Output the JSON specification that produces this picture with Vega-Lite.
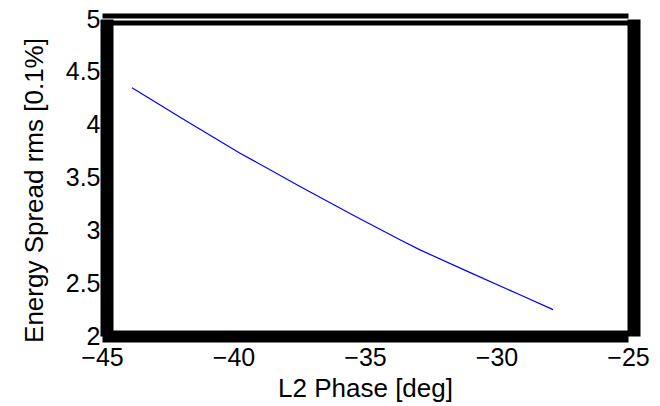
{
  "$schema": "https://vega.github.io/schema/vega-lite/v6.json",
  "width": 526,
  "height": 317,
  "autosize": "none",
  "padding": {"left": 102, "top": 19, "right": 32, "bottom": 70},
  "background": "white",
  "config": {
    "view": {"stroke": null},
    "font": "Liberation Sans",
    "axis": {"labelFont": "Liberation Sans", "titleFont": "Liberation Sans", "labelColor": "black", "titleColor": "black", "labelFontSize": 25, "titleFontSize": 26, "titleFontWeight": "normal", "grid": false}
  },
  "data": {"values": [
    {"phase": -43.86, "spread": 4.35},
    {"phase": -42.03, "spread": 4.07},
    {"phase": -39.75, "spread": 3.73},
    {"phase": -37.47, "spread": 3.415},
    {"phase": -35.5, "spread": 3.15},
    {"phase": -33.67, "spread": 2.91},
    {"phase": -32.91, "spread": 2.815},
    {"phase": -31.0, "spread": 2.6},
    {"phase": -29.11, "spread": 2.39},
    {"phase": -27.85, "spread": 2.25}
  ]},
  "resolve": {"axis": {"x": "independent", "y": "independent"}},
  "layer": [
    {
      "mark": {"type": "line", "opacity": 0},
      "encoding": {
        "x": {"field": "phase", "type": "quantitative", "scale": {"domain": [-45, -25], "nice": false, "zero": false},
          "axis": {"orient": "top", "title": null, "labels": false, "ticks": false, "tickSize": 0, "domainColor": "black", "domainWidth": 5, "offset": 3.5}},
        "y": {"field": "spread", "type": "quantitative", "scale": {"domain": [2, 5], "nice": false, "zero": false},
          "axis": {"orient": "left", "title": null, "labels": false, "ticks": false, "tickSize": 0, "domainColor": "black", "domainWidth": 13, "offset": -4.5}}
      }
    },
    {
      "mark": {"type": "line", "opacity": 0},
      "encoding": {
        "x": {"field": "phase", "type": "quantitative",
          "axis": {"orient": "top", "title": null, "labels": false, "ticks": false, "tickSize": 0, "domainColor": "black", "domainWidth": 5, "offset": -3.5}},
        "y": {"field": "spread", "type": "quantitative",
          "axis": {"orient": "right", "title": null, "labels": false, "ticks": false, "tickSize": 0, "domainColor": "black", "domainWidth": 13, "offset": 5.5}}
      }
    },
    {
      "mark": {"type": "line", "color": "#0000ff", "strokeWidth": 1.2},
      "encoding": {
        "x": {"field": "phase", "type": "quantitative",
          "axis": {"orient": "bottom", "title": "L2 Phase [deg]", "values": [-45, -40, -35, -30, -25], "ticks": false, "tickSize": 0, "labelPadding": 9, "titlePadding": 5, "domainColor": "black", "domainWidth": 12, "labelFlush": false, "labelOverlap": false}},
        "y": {"field": "spread", "type": "quantitative",
          "axis": {"orient": "left", "title": "Energy Spread rms [0.1%]", "titleY": 171, "values": [2, 2.5, 3, 3.5, 4, 4.5, 5], "format": "~g", "ticks": false, "tickSize": 0, "labelPadding": 2, "titlePadding": 18, "domain": false, "labelFlush": false, "labelOverlap": false}}
      }
    }
  ]
}
